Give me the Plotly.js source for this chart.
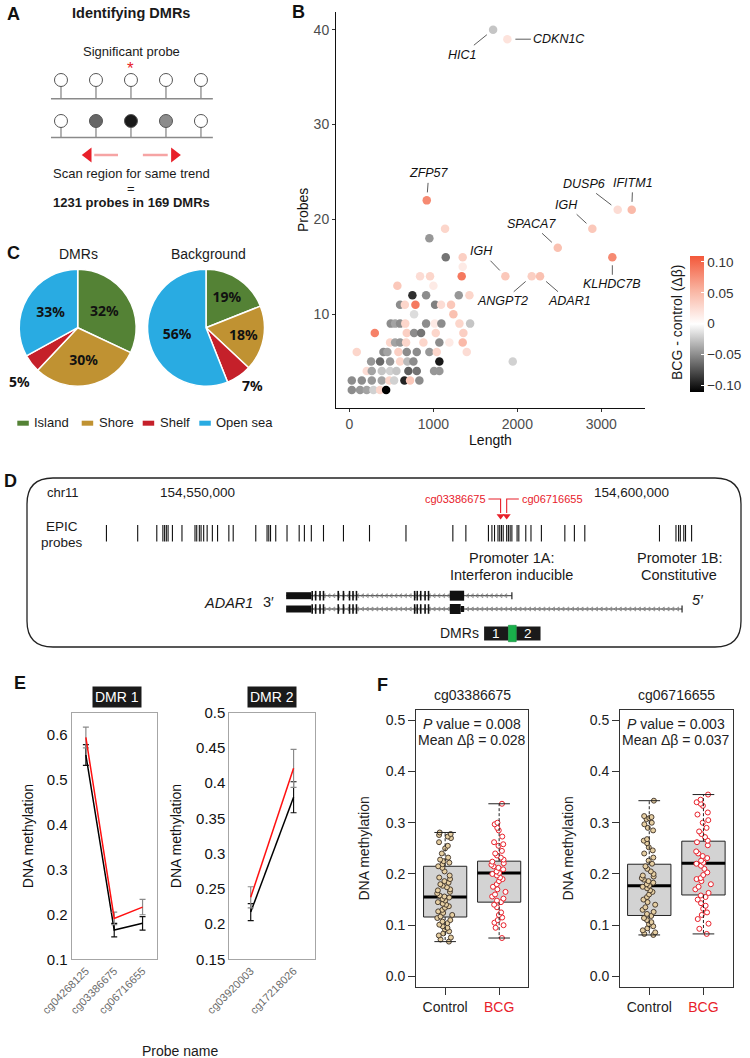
<!DOCTYPE html>
<html>
<head>
<meta charset="utf-8">
<script src="https://cdn.plot.ly/plotly-3.0.1.min.js"></script>
<style>
  html, body { margin: 0; padding: 0; background: #fff; }
  #fig { width: 750px; height: 1058px; }
</style>
</head>
<body>
<div id="fig"></div>
<script>
// ---------- Panel A: schematic probes ----------
const probeIdx = [1, 2, 3, 4, 5];
const rowBefore = ['#ffffff', '#ffffff', '#ffffff', '#ffffff', '#ffffff'];
const rowAfter = ['#ffffff', '#666666', '#1a1a1a', '#8c8c8c', '#ffffff'];
const significantProbe = 3;

// ---------- Panel B: DMR length vs number of probes ----------
const dmrLength = [1711, 1881, 921, 3195, 3362, 2893, 2481, 3131, 1857, 2171, 2270,
  1945, 1139, 952, 1147, 1349, 1349, 1337, 841, 960, 571, 1000, 750, 913, 1302, 1429,
  603, 660, 786, 1020, 1091, 1210, 770, 1238, 492, 544, 603, 665, 913, 1016, 1095, 1310, 1437,
  302, 683, 770, 853, 1028, 1357, 484, 544, 603, 675, 881, 1071, 1190, 1349,
  87, 405, 452, 583, 683, 802, 952, 1040, 1397, 258, 365, 484, 603, 690, 762, 1071,
  206, 266, 385, 484, 560, 702, 802, 1008, 1071, 28, 147, 266, 385, 476, 532, 655, 722, 833,
  28, 127, 206, 286, 365, 437];
const dmrProbes = [40, 39, 22, 21, 21, 19, 17, 16, 14, 14, 14,
  5, 19, 18, 16, 16, 15, 14, 14, 14, 13, 13, 12, 12, 12, 12,
  11, 11, 11, 11, 11, 11, 10, 10, 9, 9, 9, 9, 9, 9, 9, 9, 9,
  8, 8, 8, 8, 8, 8, 7, 7, 7, 7, 7, 7, 7, 7,
  6, 6, 6, 6, 6, 6, 6, 6, 6, 5, 5, 5, 5, 5, 5, 5,
  4, 4, 4, 4, 4, 4, 4, 4, 4, 3, 3, 3, 3, 3, 3, 3, 3, 3,
  2, 2, 2, 2, 2, 2];
const dmrDelta = [-0.025, 0.02, 0.08, 0.025, 0.05, 0.04, 0.045, 0.08, 0.04, 0.035, 0.045,
  -0.02, 0.03, -0.045, -0.06, 0.035, 0.015, 0.09, 0.025, 0.03, 0.04, 0.015, -0.09, -0.05, -0.045, 0.03,
  -0.05, 0.03, 0.09, -0.055, 0.025, 0.04, -0.015, 0.045, -0.05, -0.04, -0.05, 0.03, -0.05, 0.015, -0.05, 0.03, -0.025,
  0.085, 0.035, -0.05, -0.06, 0.03, 0.035, 0.03, -0.04, -0.045, 0.03, 0.03, -0.05, 0.015, 0.05,
  0.03, -0.05, -0.04, 0.035, -0.05, -0.05, -0.045, 0.03, 0.025, -0.045, -0.065, -0.045, 0.03, -0.03, -0.05, -0.1,
  0.025, -0.04, -0.025, -0.02, -0.025, -0.07, -0.06, -0.045, -0.045, -0.05, -0.05, -0.045, -0.04, 0.03, -0.02, -0.095, 0.04, -0.05,
  -0.05, -0.045, -0.04, -0.02, 0.03, -0.11];
const labelGene = ['HIC1', 'CDKN1C', 'ZFP57', 'DUSP6', 'IFITM1', 'IGH', 'SPACA7', 'KLHDC7B', 'IGH', 'ANGPT2', 'ADAR1'];

// ---------- Panel C: genomic context ----------
const regionCats = ['Island', 'Shore', 'Shelf', 'Open sea'];
const regionColors = ['#548235', '#c09232', '#c5202a', '#29abe2'];
const dmrShare = [32, 30, 5, 33];
const backgroundShare = [19, 18, 7, 56];

// ---------- Panel D: ADAR1 locus (kb on chr11) ----------
const epicProbesKb = [154539.5, 154543.1, 154545.3, 154546.0, 154546.2, 154546.4, 154546.6, 154547.1,
  154548.2, 154549.7, 154549.9, 154550.2, 154550.4, 154550.7, 154551.1, 154551.7, 154552.3, 154553.6,
  154554.1, 154556.7, 154558.0, 154558.2, 154558.4, 154559.0, 154560.3, 154561.7, 154562.3, 154563.1,
  154564.5, 154566.8, 154569.8, 154574.0, 154579.4, 154580.9, 154583.5, 154583.9, 154584.2, 154584.6,
  154584.8, 154585.0, 154585.2, 154585.6, 154585.8, 154586.0, 154586.2, 154586.8, 154587.0, 154587.8,
  154588.4, 154589.6, 154592.3, 154593.4, 154594.6, 154603.2, 154605.1, 154605.4, 154605.6, 154606.0,
  154606.2, 154606.9];
const sigProbesKb = [154584.9, 154585.6];
const sigProbeNames = ['cg03386675', 'cg06716655'];
const utrKb = [154560.2, 154563.1];
const exonLinesKb = [154563.2, 154563.6, 154564.1, 154564.5, 154566.2, 154566.8, 154567.5,
  154567.9, 154568.3, 154575.0, 154575.3, 154575.7, 154576.2, 154576.6];
const exon1Kb = [154579.05, 154580.7];
const transcriptEndKb = [154586.2, 154605.8];
const dmrBlocksKb = [[154583.0, 154585.8], [154586.7, 154589.5]];
const overlapKb = [154585.8, 154586.7];
const coordTicks = [154550, 154600];
const coordLabels = ['154,550,000', '154,600,000'];

// ---------- Panel E: DMR mean methylation ----------
const dmr1Probes = ['cg04268125', 'cg03386675', 'cg06716655'];
const dmr1Bcg = [0.593, 0.191, 0.216];
const dmr1BcgErr = [0.023, 0.014, 0.017];
const dmr1Ctrl = [0.554, 0.165, 0.180];
const dmr1CtrlErr = [0.023, 0.015, 0.015];
const dmr2Probes = ['cg03920003', 'cg17218026'];
const dmr2Bcg = [0.238, 0.421];
const dmr2BcgErr = [0.015, 0.027];
const dmr2Ctrl = [0.217, 0.380];
const dmr2CtrlErr = [0.012, 0.022];

// ---------- Panel F: single probes ----------
const fProbes = ['cg03386675', 'cg06716655'];
const fPvalue = ['0.008', '0.003'];
const fMeanDelta = ['0.028', '0.037'];
const ctrlLower = [0.068, 0.081], ctrlQ1 = [0.116, 0.119], ctrlMed = [0.155, 0.177], ctrlQ3 = [0.215, 0.219], ctrlUpper = [0.281, 0.343];
const bcgLower = [0.075, 0.083], bcgQ1 = [0.145, 0.159], bcgMed = [0.202, 0.221], bcgQ3 = [0.225, 0.264], bcgUpper = [0.337, 0.355];
const ctrlBeta1 = [0.281, 0.278, 0.276, 0.273, 0.270, 0.262, 0.255, 0.250, 0.240, 0.232, 0.228, 0.225, 0.222,
  0.219, 0.215, 0.212, 0.205, 0.197, 0.193, 0.190, 0.186, 0.183, 0.180, 0.177, 0.174, 0.170, 0.168, 0.165,
  0.162, 0.158, 0.156, 0.154, 0.151, 0.148, 0.145, 0.142, 0.140, 0.137, 0.134, 0.130, 0.127, 0.124, 0.120,
  0.117, 0.114, 0.110, 0.107, 0.104, 0.101, 0.098, 0.095, 0.092, 0.088, 0.084, 0.080, 0.076, 0.072, 0.068];
const bcgBeta1 = [0.337, 0.300, 0.297, 0.290, 0.285, 0.273, 0.262, 0.258, 0.255, 0.245, 0.240, 0.236, 0.232,
  0.228, 0.224, 0.221, 0.218, 0.215, 0.212, 0.209, 0.205, 0.202, 0.200, 0.197, 0.193, 0.190, 0.186, 0.180,
  0.175, 0.170, 0.165, 0.160, 0.156, 0.152, 0.148, 0.145, 0.140, 0.135, 0.125, 0.120, 0.115, 0.110, 0.105,
  0.100, 0.095, 0.075];
const ctrlBeta2 = [0.343, 0.313, 0.311, 0.309, 0.307, 0.300, 0.297, 0.290, 0.285, 0.268, 0.265, 0.260, 0.252,
  0.246, 0.240, 0.232, 0.226, 0.220, 0.215, 0.210, 0.205, 0.200, 0.197, 0.195, 0.192, 0.189, 0.186, 0.183,
  0.180, 0.177, 0.175, 0.172, 0.168, 0.165, 0.160, 0.155, 0.150, 0.145, 0.140, 0.135, 0.130, 0.126, 0.122,
  0.118, 0.114, 0.110, 0.106, 0.102, 0.098, 0.094, 0.090, 0.086, 0.083, 0.081];
const bcgBeta2 = [0.355, 0.345, 0.340, 0.337, 0.333, 0.320, 0.316, 0.305, 0.300, 0.290, 0.283, 0.278, 0.272,
  0.265, 0.262, 0.256, 0.244, 0.240, 0.235, 0.231, 0.226, 0.222, 0.220, 0.216, 0.210, 0.203, 0.198, 0.192,
  0.190, 0.186, 0.180, 0.175, 0.170, 0.163, 0.158, 0.155, 0.150, 0.143, 0.138, 0.132, 0.125, 0.120, 0.112,
  0.103, 0.093, 0.083];

const W = 750, H = 1058;
const FONT = 'Liberation Sans, Arial, sans-serif';
const px = v => v / W;
const py = v => 1 - v / H;
const RED = '#e8202a';

function note(text, x, y, size, extra) {
  return Object.assign({
    xref: 'paper', yref: 'paper', x: px(x), y: py(y), text: text, showarrow: false,
    xanchor: 'center', yanchor: 'middle',
    font: { family: FONT, size: size || 13, color: '#1a1a1a' }
  }, extra || {});
}

const traces = [];
const shapes = [];
const annotations = [];

// panel letters
[['A', 13, 14], ['B', 298, 12], ['C', 13, 253], ['D', 10, 481], ['E', 20, 683], ['F', 382, 685]].forEach(l => {
  annotations.push(note('<b>' + l[0] + '</b>', l[1], l[2], 18, { font: { family: FONT, size: 18, color: '#111' } }));
});

// ===== Panel A =====
const ROW1 = 80, BASE1 = 98.7, ROW2 = 121, BASE2 = 137.5, ARROW_Y = 155;
annotations.push(note('<b>Identifying DMRs</b>', 131, 13, 14.5));
annotations.push(note('Significant probe', 131, 51, 13));
annotations.push(Object.assign(note('*', 0, 0, 17, { font: { family: FONT, size: 17, color: RED } }),
  { xref: 'x2', yref: 'y2', x: significantProbe, y: 68 }));
annotations.push(note('Scan region for same trend', 131, 173, 13));
annotations.push(note('=', 131, 188, 13));
annotations.push(note('<b>1231 probes in 169 DMRs</b>', 131, 203, 13));
[BASE1, BASE2].forEach(b => shapes.push({ type: 'line', xref: 'x2', yref: 'y2', x0: 0.714, x1: 5.34, y0: b, y1: b,
  line: { color: '#8a8a8a', width: 1.5 } }));
[[ROW1, BASE1, rowBefore], [ROW2, BASE2, rowAfter]].forEach(r => {
  const sx = [], sy = [];
  probeIdx.forEach(i => { sx.push(i, i, null); sy.push(r[0] + 6, r[1], null); });
  traces.push({ type: 'scatter', mode: 'lines', xaxis: 'x2', yaxis: 'y2', x: sx, y: sy,
    line: { color: '#8a8a8a', width: 1.3 }, hoverinfo: 'skip' });
  traces.push({ type: 'scatter', mode: 'markers', xaxis: 'x2', yaxis: 'y2', x: probeIdx, y: probeIdx.map(() => r[0]),
    marker: { size: 13, color: r[2], line: { color: '#555', width: 1 } }, hoverinfo: 'skip' });
});
traces.push({ type: 'scatter', mode: 'lines', xaxis: 'x2', yaxis: 'y2',
  x: [1.95, 2.63, null, 3.34, 4.05], y: [ARROW_Y, ARROW_Y, null, ARROW_Y, ARROW_Y],
  line: { color: '#f6a4a4', width: 2.5 }, hoverinfo: 'skip' });
traces.push({ type: 'scatter', mode: 'markers', xaxis: 'x2', yaxis: 'y2',
  x: [1.78, 4.24], y: [ARROW_Y, ARROW_Y],
  marker: { symbol: ['triangle-left', 'triangle-right'], size: 13, color: RED }, hoverinfo: 'skip' });

// ===== Panel B =====
traces.push({
  type: 'scatter', mode: 'markers', x: dmrLength, y: dmrProbes, hoverinfo: 'skip',
  marker: {
    size: 8.5, color: dmrDelta, cmin: -0.11, cmax: 0.11,
    colorscale: [[0, '#000000'], [0.25, '#808080'], [0.5, '#ffffff'], [0.75, '#f9b3a0'], [1, '#f3583a']],
    line: { width: 0 },
    showscale: true,
    colorbar: {
      x: px(690), xanchor: 'left', y: py(323.7), yanchor: 'middle', len: 136 / H, lenmode: 'fraction',
      thickness: 14, xpad: 0, ypad: 0, outlinewidth: 0,
      tickvals: [-0.1, -0.05, 0, 0.05, 0.1], ticktext: ['\u22120.10', '\u22120.05', '0', '0.05', '0.10'],
      ticks: 'inside', ticklen: 3, tickcolor: '#fff', tickfont: { family: FONT, size: 13.5, color: '#333' },
      title: { text: '' }
    }
  }
});
annotations.push(note('BCG - control (\u0394\u03b2)', 677, 323, 14, { textangle: -90 }));
const labelOffsets = [[-31, 25], [52, 0], [2, -27], [-34, -26], [1, -27], [-26, -24], [-26, -24], [0, 27], [-24, -25], [-29, 25], [29, 25]];
labelGene.forEach((g, i) => {
  annotations.push({
    xref: 'x', yref: 'y', x: dmrLength[i], y: dmrProbes[i], text: '<i>' + g + '</i>',
    showarrow: true, arrowhead: 0, arrowwidth: 0.8, arrowcolor: '#333', standoff: 8,
    ax: labelOffsets[i][0], ay: labelOffsets[i][1], borderpad: 2,
    font: { family: FONT, size: 12.5, color: '#111' }
  });
});

// ===== Panel C =====
function pie(values, cx, cy, r, smallText) {
  traces.push({
    type: 'pie', values: values, labels: regionCats, sort: false, direction: 'clockwise', rotation: 0,
    marker: { colors: regionColors, line: { color: '#fff', width: 1.5 } },
    text: values.map(v => v + '%'), textinfo: 'text', texttemplate: values.map(v => v === smallText ? '' : '<b>%{text}</b>'),
    textposition: 'inside', insidetextorientation: 'horizontal',
    insidetextfont: { family: 'Noto Sans, sans-serif', size: 14, color: '#111' },
    domain: { x: [px(cx - r), px(cx + r)], y: [py(cy + r), py(cy - r)] },
    hoverinfo: 'skip', showlegend: false
  });
}
pie(dmrShare, 77.7, 327.7, 58.5, 5);
pie(backgroundShare, 206, 327.7, 58.5, 7);
annotations.push(note('DMRs', 78, 254, 14));
annotations.push(note('Background', 208, 254, 14));
annotations.push(note('<b>5%</b>', 19, 381, 14, { font: { family: 'Noto Sans, sans-serif', size: 14, color: '#111' } }));
annotations.push(note('<b>7%</b>', 252, 385, 14, { font: { family: 'Noto Sans, sans-serif', size: 14, color: '#111' } }));
const legendX = [17.3, 81.7, 142.7, 199.3];
regionCats.forEach((c, i) => {
  shapes.push({ type: 'rect', xref: 'paper', yref: 'paper', x0: px(legendX[i]), x1: px(legendX[i] + 11.5),
    y0: py(425.7), y1: py(420.7), fillcolor: regionColors[i], line: { width: 0 } });
  annotations.push(note(c, legendX[i] + 15, 423, 13, { xanchor: 'left' }));
});

// ===== Panel D =====
// rounded frame
(function () {
  const x0 = 27, x1 = 741, y0 = 478, y1 = 647, r = 26;
  const p = (x, y) => px(x) + ',' + py(y);
  shapes.push({
    type: 'path', xref: 'paper', yref: 'paper', line: { color: '#222', width: 1.3 },
    path: 'M' + p(x0 + r, y0) + ' L' + p(x1 - r, y0) + ' Q' + p(x1, y0) + ' ' + p(x1, y0 + r) +
      ' L' + p(x1, y1 - r) + ' Q' + p(x1, y1) + ' ' + p(x1 - r, y1) + ' L' + p(x0 + r, y1) +
      ' Q' + p(x0, y1) + ' ' + p(x0, y1 - r) + ' L' + p(x0, y0 + r) + ' Q' + p(x0, y0) + ' ' + p(x0 + r, y0) + ' Z'
  });
})();
annotations.push(note('chr11', 45, 492, 13, { xanchor: 'left' }));
coordTicks.forEach((t, i) => annotations.push(Object.assign(note(coordLabels[i], 0, 492, 13.5), { xref: 'x3', x: t })));
annotations.push(note('EPIC', 62, 526, 13.5));
annotations.push(note('probes', 62, 542, 13.5));
(function () {
  const sx = [], sy = [];
  epicProbesKb.forEach(k => { sx.push(k, k, null); sy.push(525, 541.5, null); });
  traces.push({ type: 'scatter', mode: 'lines', xaxis: 'x3', yaxis: 'y3', x: sx, y: sy,
    line: { color: '#111', width: 1.1 }, hoverinfo: 'skip' });
})();
// significant probes
traces.push({ type: 'scatter', mode: 'lines', xaxis: 'x3', yaxis: 'y3',
  x: [154583.5, sigProbesKb[0], sigProbesKb[0], null, 154587.0, sigProbesKb[1], sigProbesKb[1]],
  y: [499, 499, 513, null, 499, 499, 513], line: { color: RED, width: 1.1 }, hoverinfo: 'skip' });
traces.push({ type: 'scatter', mode: 'markers', xaxis: 'x3', yaxis: 'y3', x: sigProbesKb, y: [516, 516],
  marker: { symbol: 'triangle-down', size: 7, color: RED }, hoverinfo: 'skip' });
annotations.push(Object.assign(note(sigProbeNames[0], 0, 499, 11, { xanchor: 'right', font: { family: FONT, size: 11, color: RED } }), { xref: 'x3', x: 154583.4 }));
annotations.push(Object.assign(note(sigProbeNames[1], 0, 499, 11, { xanchor: 'left', font: { family: FONT, size: 11, color: RED } }), { xref: 'x3', x: 154587.1 }));
// promoters
annotations.push(Object.assign(note('Promoter 1A:', 0, 558, 14.5), { xref: 'x3', x: transcriptEndKb[0] }));
annotations.push(Object.assign(note('Interferon inducible', 0, 575, 14.5), { xref: 'x3', x: transcriptEndKb[0] }));
annotations.push(Object.assign(note('Promoter 1B:', 0, 558, 14.5), { xref: 'x3', x: transcriptEndKb[1] - 0.3 }));
annotations.push(Object.assign(note('Constitutive', 0, 575, 14.5), { xref: 'x3', x: transcriptEndKb[1] - 0.3 }));
// gene model
const LANES = [595.7, 609];
LANES.forEach((lane, t) => {
  const end = transcriptEndKb[t];
  traces.push({ type: 'scatter', mode: 'lines', xaxis: 'x3', yaxis: 'y3', x: [utrKb[0], end], y: [lane, lane],
    line: { color: '#333', width: 1 }, hoverinfo: 'skip' });
  const cx = [];
  for (let k = utrKb[1] + 0.4; k < end - 0.2; k += 0.55) cx.push(k);
  traces.push({ type: 'scatter', mode: 'markers', xaxis: 'x3', yaxis: 'y3', x: cx, y: cx.map(() => lane),
    marker: { symbol: 'triangle-left-open', size: 3.5, color: '#777', line: { width: 0.7, color: '#777' } }, hoverinfo: 'skip' });
  shapes.push({ type: 'line', xref: 'x3', yref: 'y3', x0: end, x1: end, y0: lane - 3.5, y1: lane + 3.5, line: { color: '#222', width: 1.2 } });
  shapes.push({ type: 'rect', xref: 'x3', yref: 'y3', x0: utrKb[0], x1: utrKb[1], y0: lane - 3.5, y1: lane + 3.5,
    fillcolor: '#111', line: { width: 0 } });
  exonLinesKb.forEach(k => shapes.push({ type: 'line', xref: 'x3', yref: 'y3', x0: k, x1: k, y0: lane - 4.8, y1: lane + 4.8,
    line: { color: '#111', width: 1.6 } }));
  if (t === 0) {
    shapes.push({ type: 'rect', xref: 'x3', yref: 'y3', x0: exon1Kb[0], x1: exon1Kb[1], y0: lane - 5, y1: lane + 5,
      fillcolor: '#111', line: { width: 0 } });
  } else {
    shapes.push({ type: 'rect', xref: 'x3', yref: 'y3', x0: exon1Kb[0], x1: exon1Kb[1] - 0.4, y0: lane - 5, y1: lane + 5,
      fillcolor: '#111', line: { width: 0 } });
    shapes.push({ type: 'rect', xref: 'x3', yref: 'y3', x0: exon1Kb[1] - 0.4, x1: exon1Kb[1], y0: lane - 3, y1: lane + 3,
      fillcolor: '#111', line: { width: 0 } });
  }
});
annotations.push(note('<i>ADAR1</i>', 228, 603, 14.5));
annotations.push(note('3\u2032', 268, 602, 14.5));
annotations.push(note('<i>5\u2032</i>', 698, 600, 14.5));
annotations.push(note('DMRs', 459, 633, 14));
dmrBlocksKb.forEach((b, i) => {
  shapes.push({ type: 'rect', xref: 'x3', yref: 'y3', x0: b[0], x1: b[1], y0: 626.5, y1: 640.5, fillcolor: '#1a1a1a', line: { width: 0 } });
  annotations.push(Object.assign(note(String(i + 1), 0, 633.5, 13.5, { font: { family: FONT, size: 13.5, color: '#fff' } }),
    { xref: 'x3', x: (b[0] + b[1]) / 2 }));
});
shapes.push({ type: 'rect', xref: 'x3', yref: 'y3', x0: overlapKb[0], x1: overlapKb[1], y0: 625.3, y1: 641.7,
  fillcolor: '#19b04b', line: { color: '#0e8a35', width: 0.6 } });

// ===== Panel E =====
function lineTrace(xa, ya, y, err, col, errCol) {
  return { type: 'scatter', mode: 'lines', xaxis: xa, yaxis: ya, x: y.map((v, i) => i + 1), y: y,
    line: { color: col, width: 1.5 }, hoverinfo: 'skip',
    error_y: { type: 'data', array: err, visible: true, color: errCol, thickness: 1.2, width: 3 } };
}
traces.push(lineTrace('x4', 'y4', dmr1Ctrl, dmr1CtrlErr, '#000', '#111'));
traces.push(lineTrace('x4', 'y4', dmr1Bcg, dmr1BcgErr, '#ff1010', '#8a8a8a'));
traces.push(lineTrace('x5', 'y5', dmr2Ctrl, dmr2CtrlErr, '#000', '#111'));
traces.push(lineTrace('x5', 'y5', dmr2Bcg, dmr2BcgErr, '#ff1010', '#8a8a8a'));
annotations.push(note('DMR 1', 117, 697, 14, { bgcolor: '#1a1a1a', borderpad: 2, font: { family: FONT, size: 14, color: '#fff' } }));
annotations.push(note('DMR 2', 271.7, 697, 14, { bgcolor: '#1a1a1a', borderpad: 2, font: { family: FONT, size: 14, color: '#fff' } }));
annotations.push(note('Probe name', 180, 1051, 14));

// ===== Panel F =====
[['x6', 'y6'], ['x7', 'y7']].forEach((ax, i) => {
  const xa = ax[0], ya = ax[1];
  [[1, ctrlLower, ctrlQ1, ctrlMed, ctrlQ3, ctrlUpper], [2, bcgLower, bcgQ1, bcgMed, bcgQ3, bcgUpper]].forEach(g => {
    const pos = g[0];
    traces.push({ type: 'box', xaxis: xa, yaxis: ya, x: [pos], q1: [g[2][i]], median: [g[3][i]], q3: [g[4][i]],
      lowerfence: [g[2][i]], upperfence: [g[4][i]], width: 0.8, whiskerwidth: 0, boxpoints: false,
      fillcolor: '#d3d3d3', line: { color: '#222', width: 1 }, hoverinfo: 'skip' });
    traces.push({ type: 'box', xaxis: xa, yaxis: ya, x: [pos], q1: [g[3][i]], median: [g[3][i]], q3: [g[3][i]],
      lowerfence: [g[3][i]], upperfence: [g[3][i]], width: 0.8, whiskerwidth: 0, boxpoints: false,
      fillcolor: 'rgba(0,0,0,0)', line: { color: '#000', width: 3 }, hoverinfo: 'skip' });
  });
  const pts = i === 0 ? [ctrlBeta1, bcgBeta1] : [ctrlBeta2, bcgBeta2];
  traces.push({ type: 'box', xaxis: xa, yaxis: ya, y: pts[0], x0: 1, width: 0.8, boxpoints: 'all', jitter: 0.4, pointpos: 0,
    fillcolor: 'rgba(0,0,0,0)', line: { color: 'rgba(0,0,0,0)', width: 0 }, whiskerwidth: 0, hoverinfo: 'skip',
    marker: { size: 5, color: '#e6cfa2', line: { color: '#3b2f25', width: 0.9 } } });
  traces.push({ type: 'box', xaxis: xa, yaxis: ya, y: pts[1], x0: 2, width: 0.8, boxpoints: 'all', jitter: 0.4, pointpos: 0,
    fillcolor: 'rgba(0,0,0,0)', line: { color: 'rgba(0,0,0,0)', width: 0 }, whiskerwidth: 0, hoverinfo: 'skip',
    marker: { size: 5, color: '#fff', line: { color: RED, width: 1 } } });
  // whiskers
  const wx = [], wy = [], cx = [], cy = [];
  [[1, ctrlLower, ctrlQ1, ctrlQ3, ctrlUpper], [2, bcgLower, bcgQ1, bcgQ3, bcgUpper]].forEach(g => {
    wx.push(g[0], g[0], null, g[0], g[0], null); wy.push(g[3][i], g[4][i], null, g[2][i], g[1][i], null);
    cx.push(g[0] - 0.2, g[0] + 0.2, null, g[0] - 0.2, g[0] + 0.2, null); cy.push(g[4][i], g[4][i], null, g[1][i], g[1][i], null);
  });
  traces.push({ type: 'scatter', mode: 'lines', xaxis: xa, yaxis: ya, x: wx, y: wy, line: { color: '#222', width: 1, dash: '3px,2px' }, hoverinfo: 'skip' });
  traces.push({ type: 'scatter', mode: 'lines', xaxis: xa, yaxis: ya, x: cx, y: cy, line: { color: '#222', width: 1 }, hoverinfo: 'skip' });
  const fNote = (text, y) => ({ xref: xa + ' domain', yref: 'paper', x: 0.5, y: py(y), xanchor: 'center', yanchor: 'middle',
    text: text, showarrow: false, font: { family: FONT, size: 14, color: '#222' } });
  annotations.push(fNote(fProbes[i], 695));
  annotations.push(fNote('<i>P</i> value = ' + fPvalue[i], 723.5));
  annotations.push(fNote('Mean \u0394\u03b2 = ' + fMeanDelta[i], 739.5));
});

const hidden = { visible: false, fixedrange: true, showgrid: false, zeroline: false };
const eAxisX = (dom, range, labels) => ({
  domain: dom, range: range, tickvals: labels.map((l, i) => i + 1), ticktext: labels, tickangle: -45, ticks: '',
  showline: true, mirror: true, linecolor: '#a6a6a6', linewidth: 1, showgrid: false, zeroline: false,
  tickfont: { family: FONT, size: 11, color: '#6b6b6b' }
});
const eAxisY = (dom, range, dtick, standoff) => ({
  domain: dom, range: range, dtick: dtick, tick0: 0, ticks: '', showline: true, mirror: true, linecolor: '#a6a6a6', linewidth: 1,
  showgrid: false, zeroline: false, tickfont: { family: FONT, size: 15, color: '#111' },
  title: { text: 'DNA methylation', standoff: standoff, font: { family: FONT, size: 14, color: '#111' } }
});
const fAxisX = dom => ({
  domain: dom, range: [0.46, 2.54], tickvals: [1, 2], ticktext: ['Control', '<span style="color:' + RED + '">BCG</span>'],
  ticks: 'outside', ticklen: 7, tickcolor: '#333', showline: true, mirror: true, linecolor: '#333', linewidth: 1,
  showgrid: false, zeroline: false, tickfont: { family: FONT, size: 14, color: '#222' }
});
const fAxisY = dom => ({
  domain: dom, range: [-0.02, 0.52], tickvals: [0, 0.1, 0.2, 0.3, 0.4, 0.5], tickformat: '.1f',
  ticks: 'outside', ticklen: 7, tickcolor: '#333', showline: true, mirror: true, linecolor: '#333', linewidth: 1,
  showgrid: false, zeroline: false, tickfont: { family: FONT, size: 14, color: '#222' },
  title: { text: 'DNA methylation', standoff: 12, font: { family: FONT, size: 14, color: '#222' } }
});

const layout = {
  width: W, height: H, margin: { l: 0, r: 0, t: 0, b: 0 }, showlegend: false,
  paper_bgcolor: '#fff', plot_bgcolor: 'rgba(0,0,0,0)', font: { family: FONT },
  xaxis: {
    domain: [px(336), px(645)], range: [-160, 3520], tickvals: [0, 1000, 2000, 3000], ticks: 'outside', ticklen: 3,
    tickcolor: '#333', showline: true, linecolor: '#111', linewidth: 1, showgrid: false, zeroline: false,
    tickfont: { family: FONT, size: 14, color: '#4d4d4d' },
    title: { text: 'Length', standoff: 0, font: { family: FONT, size: 14, color: '#111' } }, anchor: 'y'
  },
  yaxis: {
    domain: [py(408), py(11.7)], range: [0.1, 41.9], tickvals: [10, 20, 30, 40], ticks: 'outside', ticklen: 3,
    tickcolor: '#333', showline: true, linecolor: '#111', linewidth: 1, showgrid: false, zeroline: false,
    tickfont: { family: FONT, size: 14, color: '#4d4d4d' },
    title: { text: 'Probes', standoff: 1, font: { family: FONT, size: 14, color: '#111' } }, anchor: 'x'
  },
  xaxis2: Object.assign({ domain: [0, px(230)], range: [-0.743, 5.83], anchor: 'y2' }, hidden),
  yaxis2: Object.assign({ domain: [py(215), 1], range: [215, 0], anchor: 'x2' }, hidden),
  xaxis3: Object.assign({ domain: [px(27), px(741)], range: [154530.35, 154612.59], anchor: 'y3' }, hidden),
  yaxis3: Object.assign({ domain: [py(648), py(478)], range: [648, 478], anchor: 'x3' }, hidden),
  xaxis4: Object.assign(eAxisX([px(71.7), px(157.3)], [0.5, 3.52], dmr1Probes), { anchor: 'y4' }),
  yaxis4: Object.assign(eAxisY([py(959.3), py(712.7)], [0.1, 0.648], 0.1, 9), { anchor: 'x4' }),
  xaxis5: Object.assign(eAxisX([px(229.3), px(315)], [0.5, 2.5], dmr2Probes), { anchor: 'y5' }),
  yaxis5: Object.assign(eAxisY([py(959.3), py(712.7)], [0.15, 0.5], 0.05, 11), { anchor: 'x5' }),
  xaxis6: Object.assign(fAxisX([px(416), px(528.3)]), { anchor: 'y6' }),
  yaxis6: Object.assign(fAxisY([py(986.7), py(710)]), { anchor: 'x6' }),
  xaxis7: Object.assign(fAxisX([px(620), px(732.7)]), { anchor: 'y7' }),
  yaxis7: Object.assign(fAxisY([py(986.7), py(710)]), { anchor: 'x7' }),
  boxmode: 'overlay',
  shapes: shapes,
  annotations: annotations
};

Plotly.newPlot('fig', traces, layout, { displayModeBar: false, staticPlot: true });
</script>
</body>
</html>
